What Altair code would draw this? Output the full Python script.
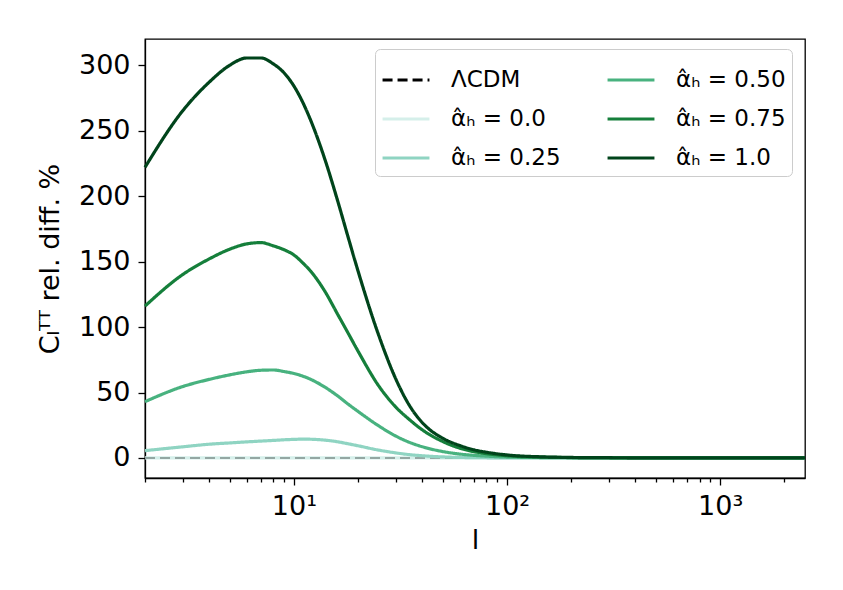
import altair as alt
import pandas as pd

# multipole l
L = [2, 3, 4, 5, 6, 7, 8, 9, 10, 11, 12, 14, 16, 18, 20, 25, 30, 35, 40, 50,
     60, 70, 80, 100, 150, 200, 300, 500, 1000, 2500]

# relative difference of C_l^TT in %
lcdm = [0.0] * 30
a000 = [0.0] * 30
a025 = [5.6, 8.5, 10.5, 11.5, 12.3, 12.9, 13.4, 13.9, 14.2, 14.4, 14.3, 13.6, 12.4, 10.8, 9.3,
        6.0, 3.9, 2.5, 1.7, 0.8, 0.4, 0.25, 0.15, 0.1, 0.05, 0.02, 0.0, 0.0, 0.0, 0.0]
a050 = [43, 54.5, 60, 63.5, 65.8, 67, 67.2, 66, 64.5, 62.5, 60, 54, 47.5, 41, 35.5,
        24.5, 16.8, 11.8, 8.6, 4.9, 3.0, 2.0, 1.4, 0.7, 0.3, 0.15, 0.08, 0.04, 0.02, 0.0]
a075 = [116, 140, 152, 159.5, 163.5, 164.5, 162, 159, 155, 149, 142.5, 127, 110, 95, 81.5,
        55, 39, 29, 21.5, 12.5, 7.5, 4.8, 3.3, 1.7, 0.6, 0.3, 0.15, 0.08, 0.03, 0.0]
a100 = [222, 265, 287, 300, 305.5, 305.5, 301, 294, 284, 271.6, 257.6, 227.6, 196.9, 168, 142.6,
        93.6, 60.6, 39.5, 27, 15, 9.5, 6.2, 4.4, 2.3, 0.8, 0.4, 0.2, 0.1, 0.05, 0.0]

names = ["ΛCDM", "α̂ₕ = 0.0", "α̂ₕ = 0.25", "α̂ₕ = 0.50", "α̂ₕ = 0.75", "α̂ₕ = 1.0"]
series = [lcdm, a000, a025, a050, a075, a100]
colors = ["#000000", "#d5efea", "#8fd4c2", "#48b27f", "#157f3b", "#00441b"]
dashes = [[10, 5], [1, 0], [1, 0], [1, 0], [1, 0], [1, 0]]

rows = []
for n, vals in zip(names, series):
    for l, v in zip(L, vals):
        rows.append({"l": l, "v": v, "s": n})
df = pd.DataFrame(rows)

major = [10, 100, 1000]
minor = [2, 3, 4, 5, 6, 7, 8, 9, 20, 30, 40, 50, 60, 70, 80, 90,
         200, 300, 400, 500, 600, 700, 800, 900, 2000]
xvals = sorted(major + minor)

x_enc = alt.X(
    "l:Q",
    scale=alt.Scale(type="log", domain=[2, 2500], nice=False),
    axis=alt.Axis(
        values=xvals,
        labelExpr="datum.value == 10 ? '10¹' : datum.value == 100 ? '10²' : datum.value == 1000 ? '10³' : ''",
        tickSize={"condition": {"test": "datum.value == 10 || datum.value == 100 || datum.value == 1000", "value": 7}, "value": 4},
        labelPadding=8,
        labelFlush=False,
        labelOverlap=False,
        title="l",
        titlePadding=8,
    ),
)
y_enc = alt.Y(
    "v:Q",
    scale=alt.Scale(domain=[-15.3, 320], nice=False, zero=False),
    axis=alt.Axis(
        values=[0, 50, 100, 150, 200, 250, 300],
        tickSize=7,
        labelPadding=8,
        title="Cₗᵀᵀ rel. diff. %",
        titlePadding=14,
    ),
)
leg = alt.Legend(title=None, orient="none", legendX=230, legendY=10, columns=2)
c_enc = alt.Color("s:N", scale=alt.Scale(domain=names, range=colors), legend=leg)
d_enc = alt.StrokeDash("s:N", scale=alt.Scale(domain=names, range=dashes), legend=leg)

draw_order = [names[1], names[0], names[2], names[3], names[4], names[5]]
layers = []
for n in draw_order:
    if n == "ΛCDM":
        mk = dict(strokeWidth=2, opacity=0.3)
    else:
        mk = dict(strokeWidth=3.2)
    layers.append(
        alt.Chart(df)
        .transform_filter(alt.FieldOneOfPredicate(field="s", oneOf=[n]))
        .mark_line(interpolate="monotone", **mk)
        .encode(x=x_enc, y=y_enc, color=c_enc, strokeDash=d_enc)
    )

chart = (
    alt.layer(*layers)
    .properties(
        width=660,
        height=439,
        padding={"left": 137, "top": 31, "right": 30, "bottom": 95},
        autosize=alt.AutoSizeParams(type="none"),
        background="white",
    )
    .configure_view(stroke="black", strokeWidth=1.3)
    .configure_axis(
        domainColor="black",
        domainWidth=1.3,
        tickColor="black",
        tickWidth=1.3,
        labelColor="black",
        titleColor="black",
        labelFont="DejaVu Sans",
        titleFont="DejaVu Sans",
        labelFontSize=27,
        titleFontSize=27,
        titleFontWeight="normal",
        grid=False,
    )
    .configure_legend(
        symbolType="stroke",
        symbolSize=2200,
        symbolStrokeWidth=3,
        symbolOpacity=1,
        labelFont="DejaVu Sans",
        labelFontSize=23,
        labelColor="black",
        labelOffset=20,
        labelLimit=0,
        rowPadding=2,
        columnPadding=40,
        padding=6,
        strokeColor="#cccccc",
        fillColor="white",
        cornerRadius=5,
    )
)

chart.save("out.html", embed_options={"renderer": "svg", "actions": False})
